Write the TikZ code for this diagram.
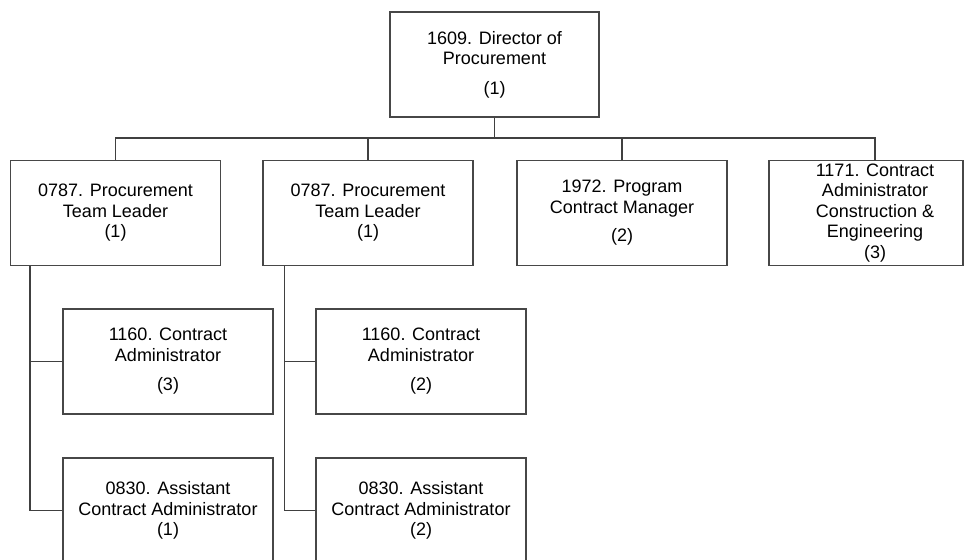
\documentclass[tikz,border=0pt]{standalone}
\usepackage{fontspec}
\setmainfont{Liberation Sans}
\begin{document}
\begin{tikzpicture}[x=1pt,y=-1pt,
  line width=1.3pt,
  post/.style={draw=black!72, fill=white, rectangle, minimum width=210pt,
    minimum height=105pt, inner sep=0pt, align=center,
    font=\fontsize{18}{20.5}\selectfont},
  caption/.style={inner sep=0pt, align=center, font=\fontsize{18}{20.5}\selectfont},
  link/.style={draw=black!75, line width=1.3pt}]
\useasboundingbox (0,0) rectangle (965,559);
\clip (0,0) rectangle (965,559);
\fill[white] (0,0) rectangle (965,559);

% director
\node[post, minimum width=209pt] (top) at (494.5,64.5)
  {1609. Director of\\Procurement\\[9pt](1)};

% second tier
\node[post] (l1) at (115.5,213) {0787. Procurement\\Team Leader\\(1)};
\node[post] (l2) at (368,213) {0787. Procurement\\Team Leader\\(1)};
\node[post] (l3) at (622,213) {1972. Program\\Contract Manager\\[8pt](2)};
\node[post, minimum width=194pt] (l4) at (866,213) {};
\node[caption] (l4t) at (875,213)
  {1171. Contract\\Administrator\\Construction \&\\Engineering\\(3)};

% third tier
\node[post] (c1) at (168,361.5) {1160. Contract\\Administrator\\[9pt](3)};
\node[post] (c2) at (421,361.5) {1160. Contract\\Administrator\\[9pt](2)};
\node[post] (a1) at (168,510.5) {0830. Assistant\\Contract Administrator\\(1)};
\node[post] (a2) at (421,510.5) {0830. Assistant\\Contract Administrator\\(2)};

% bus below the director
\coordinate (bus) at (0,138);
\coordinate (l4top) at (875,161);
\draw[link] (top.south) -- (top.south |- bus);
\draw[link] (l1.north) -- (l1.north |- bus) -- (l4top |- bus) -- (l4top);
\draw[link] (l2.north) -- (l2.north |- bus);
\draw[link] (l3.north) -- (l3.north |- bus);

% team leader branches
\coordinate (s1) at ([xshift=20pt]l1.south west);
\coordinate (s2) at ([xshift=22pt]l2.south west);
\draw[link] (s1) |- (c1.west);
\draw[link] (s1) |- (a1.west);
\draw[link] (s2) |- (c2.west);
\draw[link] (s2) |- (a2.west);
\end{tikzpicture}
\end{document}
